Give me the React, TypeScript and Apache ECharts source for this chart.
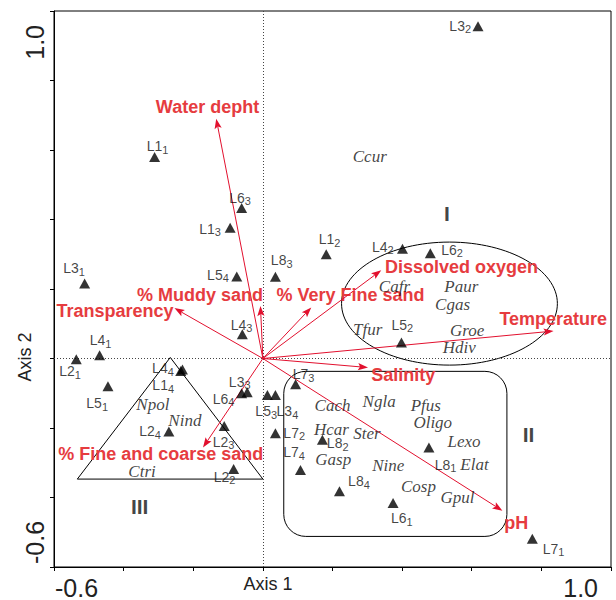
import React, { useEffect, useRef } from 'react';
import * as echarts from 'echarts';

const SANS = "'Liberation Sans', Arial, Helvetica, sans-serif";
const SERIF = "'Liberation Serif', 'Times New Roman', Times, serif";

// ---------- data ----------
const axisEndLabels = ['-0.6', '1.0'];
const axisTitles = ['Axis 1', 'Axis 2'];

const siteNames = [
  'L1_1', 'L1_2', 'L1_3', 'L1_4',
  'L2_1', 'L2_2', 'L2_3', 'L2_4',
  'L3_1', 'L3_2', 'L3_3', 'L3_4',
  'L4_1', 'L4_2', 'L4_3', 'L4_4',
  'L5_1', 'L5_2', 'L5_3', 'L5_4',
  'L6_1', 'L6_2', 'L6_3', 'L6_4',
  'L7_1', 'L7_2', 'L7_3', 'L7_4',
  'L8_1', 'L8_2', 'L8_3', 'L8_4',
];
const siteAxis1 = [
  -0.311, 0.182, -0.094, -0.236,
  -0.536, -0.084, -0.111, -0.270,
  -0.512, 0.618, -0.045, 0.036,
  -0.469, 0.401, -0.059, -0.231,
  -0.445, 0.398, 0.013, -0.075,
  0.374, 0.481, -0.061, -0.061,
  0.774, 0.036, 0.094, 0.108,
  0.477, 0.171, 0.036, 0.220,
];
const siteAxis2 = [
  0.580, 0.300, 0.376, -0.036,
  -0.002, -0.318, -0.194, -0.210,
  0.216, 0.956, -0.097, -0.105,
  0.009, 0.316, 0.070, -0.032,
  -0.080, 0.046, -0.105, 0.236,
  -0.416, 0.303, 0.433, -0.100,
  -0.519, -0.215, -0.074, -0.321,
  -0.256, -0.234, 0.235, -0.382,
];

const speciesNames = [
  'Ccur', 'Cafr', 'Paur', 'Cgas', 'Tfur', 'Groe', 'Hdiv',
  'Cach', 'Ngla', 'Hcar', 'Ster', 'Gasp', 'Nine', 'Pfus', 'Oligo', 'Lexo', 'Elat', 'Cosp', 'Gpul',
  'Npol', 'Nind', 'Ctri',
];
const speciesAxis1 = [
  0.307, 0.378, 0.570, 0.545, 0.301, 0.587, 0.564,
  0.200, 0.334, 0.197, 0.299, 0.202, 0.360, 0.468, 0.488, 0.578, 0.608, 0.447, 0.559,
  -0.316, -0.224, -0.347,
];
const speciesAxis2 = [
  0.581, 0.208, 0.208, 0.156, 0.084, 0.081, 0.032,
  -0.134, -0.123, -0.203, -0.217, -0.292, -0.307, -0.134, -0.183, -0.238, -0.304, -0.367, -0.399,
  -0.131, -0.177, -0.324,
];

const envNames = [
  'Water depht', '% Muddy sand', 'Transparency', '% Very Fine sand', 'Dissolved oxygen',
  'Temperature', 'Salinity', 'pH', '% Fine and coarse sand',
];
const envAxis1 = [-0.134, -0.007, -0.254, 0.139, 0.340, 0.835, 0.302, 0.688, -0.172];
const envAxis2 = [0.690, 0.151, 0.145, 0.147, 0.254, 0.079, -0.026, -0.438, -0.256];

const groupNames = ['I', 'II', 'III'];
const groupAxis1 = [0.529, 0.763, -0.354];
const groupAxis2 = [0.416, -0.219, -0.426];

// group outlines (axis units)
const groupIEllipse = { cx: 0.536, cy: 0.158, rx: 0.310, ry: 0.177 };
const groupIIBox = { x1: 0.060, y1: -0.037, x2: 0.701, y2: -0.512 };
const groupIIITriangle = [[-0.266, 0.003], [-0.533, -0.347], [0.0, -0.347]];

// ---------- layout (pixel offsets of labels) ----------
const siteLabelOffset: Record<string, [number, number]> = {
  L1_1: [3, -10.5], L1_2: [3.3, -15], L1_3: [-20, 1], L1_4: [-17.5, 14],
  L2_1: [-6.2, 12.3], L2_2: [-9, 7.7], L2_3: [-0.7, 16], L2_4: [-18.8, 0],
  L3_1: [-10.5, -15.3], L3_2: [-17.8, -0.4], L3_3: [-7.5, -10.3], L3_4: [12, 16.3],
  L4_1: [1, -15.3], L4_2: [-19.7, -1.8], L4_3: [-0.7, -9.3], L4_4: [-19.5, -1.2],
  L5_1: [-10.8, 16.7], L5_2: [0.8, -17.6], L5_3: [-1.2, 16.3], L5_4: [-18.8, -1.6],
  L6_1: [8.7, 15.3], L6_2: [21.8, -3.3], L6_3: [-1.5, -10.5], L6_4: [-18, 5.3],
  L7_1: [21.3, 10], L7_2: [18.8, -0.7], L7_3: [8, -10], L7_4: [-6.5, -17.7],
  L8_1: [16.7, 17.4], L8_2: [15.3, 3.6], L8_3: [6.3, -16.5], L8_4: [19.5, -10],
};
const envLabelOffset: Record<string, [number, number]> = {
  'Water depht': [-8.7, -11.3],
  '% Muddy sand': [-60.5, -10.7],
  'Transparency': [-59.5, 3],
  '% Very Fine sand': [39.3, -12.3],
  'Dissolved oxygen': [80.3, -3],
  'Temperature': [-0.3, -12],
  'Salinity': [35.2, 7.7],
  'pH': [13.8, 12.3],
  '% Fine and coarse sand': [-42.3, 6.7],
};

const ARROW = '#E2102E';
const ENV_TEXT = '#E63C3F';

function buildOption() {
  const endLabelFormatter = (v: number) => {
    const s = v.toFixed(1);
    return axisEndLabels.includes(s) ? s : '';
  };

  return {
    animation: false,
    grid: {
      left: 54, top: 11, width: 557, height: 557,
      show: true, borderColor: '#000', borderWidth: 1, backgroundColor: 'transparent',
    },
    xAxis: {
      type: 'value', min: -0.6, max: 1.0, interval: 0.2,
      axisLine: { show: true, onZero: false, lineStyle: { color: '#000', width: 1 } },
      axisTick: { show: true, inside: false, length: 4, lineStyle: { color: '#000' } },
      splitLine: { show: false },
      axisLabel: {
        show: true, showMinLabel: true, showMaxLabel: true,
        formatter: endLabelFormatter,
        fontFamily: SANS, fontSize: 25, color: '#222', margin: 8,
        alignMinLabel: 'left', alignMaxLabel: 'right',
        padding: [0, 13, 0, 1],
      },
    },
    yAxis: {
      type: 'value', min: -0.6, max: 1.0, interval: 0.2,
      axisLine: { show: true, onZero: false, lineStyle: { color: '#000', width: 1 } },
      axisTick: { show: true, inside: false, length: 4, lineStyle: { color: '#000' } },
      splitLine: { show: false },
      axisLabel: {
        show: true, showMinLabel: true, showMaxLabel: true,
        formatter: endLabelFormatter, rotate: 90,
        fontFamily: SANS, fontSize: 25, color: '#222', margin: 7,
        alignMinLabel: 'left', alignMaxLabel: 'right',
        padding: [0, 14, 0, 3],
      },
    },
    graphic: [
      {
        type: 'text', x: 268, y: 584,
        style: { text: axisTitles[0], font: `18px ${SANS}`, fill: '#222', align: 'center', verticalAlign: 'middle' },
      },
      {
        type: 'text', x: 25, y: 357, rotation: Math.PI / 2,
        style: { text: axisTitles[1], font: `18px ${SANS}`, fill: '#222', align: 'center', verticalAlign: 'middle' },
      },
    ],
    series: [
      // group outlines
      {
        type: 'custom', silent: true, z: 1,
        data: [[groupIEllipse.cx, groupIEllipse.cy]],
        renderItem: (params: any, api: any) => {
          const c = api.coord([groupIEllipse.cx, groupIEllipse.cy]);
          const s = api.size([groupIEllipse.rx, groupIEllipse.ry]);
          return {
            type: 'ellipse',
            shape: { cx: c[0], cy: c[1], rx: s[0], ry: s[1] },
            style: { fill: 'none', stroke: '#000', lineWidth: 1 },
          };
        },
      },
      {
        type: 'custom', silent: true, z: 1,
        data: [[groupIIBox.x1, groupIIBox.y1]],
        renderItem: (params: any, api: any) => {
          const a = api.coord([groupIIBox.x1, groupIIBox.y1]);
          const b = api.coord([groupIIBox.x2, groupIIBox.y2]);
          return {
            type: 'rect',
            shape: { x: a[0], y: a[1], width: b[0] - a[0], height: b[1] - a[1], r: 22 },
            style: { fill: 'none', stroke: '#000', lineWidth: 1 },
          };
        },
      },
      {
        type: 'custom', silent: true, z: 1,
        data: [groupIIITriangle[0]],
        renderItem: (params: any, api: any) => {
          const pts = groupIIITriangle.map((p) => api.coord(p));
          return {
            type: 'polygon',
            shape: { points: pts },
            style: { fill: 'none', stroke: '#000', lineWidth: 1 },
          };
        },
      },
      // environmental arrows
      {
        type: 'custom', silent: true, z: 3,
        data: envNames.map((n, i) => ({ name: n, value: [envAxis1[i], envAxis2[i]] })),
        renderItem: (params: any, api: any) => {
          const name = envNames[params.dataIndex];
          const o = api.coord([0, 0]);
          const t = api.coord([api.value(0), api.value(1)]);
          const dx = t[0] - o[0];
          const dy = t[1] - o[1];
          const len = Math.sqrt(dx * dx + dy * dy);
          const ux = dx / len;
          const uy = dy / len;
          const headL = 10;
          const headW = 3.6;
          const notch = 8;
          const bx = t[0] - ux * headL;
          const by = t[1] - uy * headL;
          const nx = t[0] - ux * notch;
          const ny = t[1] - uy * notch;
          const px = -uy;
          const py = ux;
          const off = envLabelOffset[name] || [0, 0];
          return {
            type: 'group',
            children: [
              {
                type: 'line',
                shape: { x1: o[0], y1: o[1], x2: nx, y2: ny },
                style: { stroke: ARROW, lineWidth: 1 },
              },
              {
                type: 'polygon',
                shape: {
                  points: [
                    [t[0], t[1]],
                    [bx + px * headW, by + py * headW],
                    [nx, ny],
                    [bx - px * headW, by - py * headW],
                  ],
                },
                style: { fill: ARROW, stroke: 'none' },
              },
              {
                type: 'text',
                x: t[0] + off[0],
                y: t[1] + off[1],
                style: {
                  text: name,
                  font: `bold 18px ${SANS}`,
                  fill: ENV_TEXT,
                  align: 'center',
                  verticalAlign: 'middle',
                },
              },
            ],
          };
        },
      },
      // sites
      {
        type: 'scatter', z: 4,
        symbol: 'triangle', symbolSize: [11, 10],
        itemStyle: { color: '#000' },
        data: siteNames.map((n, i) => ({
          name: n,
          value: [siteAxis1[i], siteAxis2[i]],
          label: { offset: siteLabelOffset[n] || [0, 0] },
        })),
        label: {
          show: true, position: 'inside', color: '#111',
          textBorderWidth: 0,
          formatter: (p: any) => {
            const [a, b] = String(p.name).split('_');
            return `{m|${a}}{s|${b}}`;
          },
          rich: {
            m: { fontFamily: SANS, fontSize: 14, lineHeight: 18, color: '#111' },
            s: { fontFamily: SANS, fontSize: 11, lineHeight: 10, verticalAlign: 'bottom', color: '#111' },
          },
        },
        markLine: {
          silent: true, symbol: 'none', z: 2,
          label: { show: false },
          lineStyle: { type: [1, 2], color: '#444', width: 1 },
          data: [{ xAxis: 0 }, { yAxis: 0 }],
        },
      },
      // species
      {
        type: 'scatter', z: 5,
        symbolSize: 0,
        itemStyle: { color: 'transparent' },
        data: speciesNames.map((n, i) => ({ name: n, value: [speciesAxis1[i], speciesAxis2[i]] })),
        label: {
          show: true, position: 'inside', formatter: '{b}',
          fontFamily: SERIF, fontStyle: 'italic', fontSize: 17, color: '#111', textBorderWidth: 0,
        },
      },
      // group labels
      {
        type: 'scatter', z: 5,
        symbolSize: 0,
        itemStyle: { color: 'transparent' },
        data: groupNames.map((n, i) => ({ name: n, value: [groupAxis1[i], groupAxis2[i]] })),
        label: {
          show: true, position: 'inside', formatter: '{b}',
          fontFamily: SANS, fontWeight: 'bold', fontSize: 21, color: '#111', textBorderWidth: 0,
        },
      },
    ],
  };
}

export default function App() {
  const ref = useRef<HTMLDivElement>(null);
  useEffect(() => {
    if (!ref.current) return;
    const chart = echarts.init(ref.current, null, { renderer: 'svg' });
    chart.setOption(buildOption() as any);
    return () => chart.dispose();
  }, []);
  return (
    <div
      ref={ref}
      style={{ position: 'fixed', left: 0, top: 0, width: 616, height: 600, background: '#fff' }}
    />
  );
}
